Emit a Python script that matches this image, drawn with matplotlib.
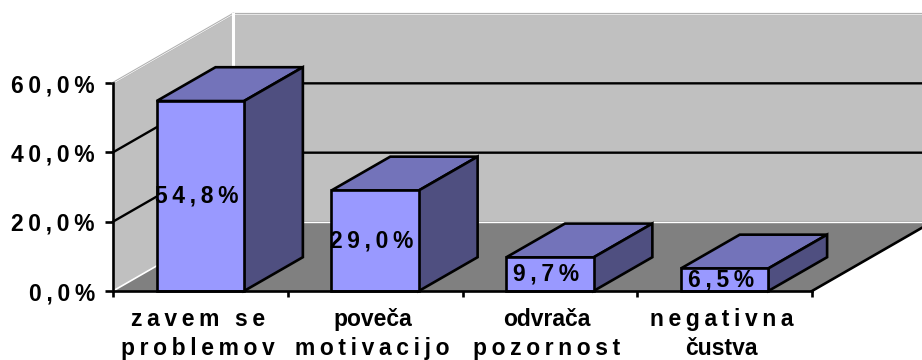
import matplotlib
matplotlib.use("Agg")
import matplotlib.pyplot as plt
from matplotlib.transforms import ScaledTranslation

categories = [("zavem se", "problemov"), ("poveča", "motivacijo"), ("odvrača", "pozornost"), ("negativna", "čustva")]
spaced_lines = [(True, True), (False, True), (False, True), (True, False)]
values = [54.8, 29.0, 9.7, 6.5]
y_ticks = [0, 20, 40, 60]

THIN = "\u2009"
BAR_W = 0.5
# depth of the box in data units (x per category, y per percent)
DX, DY = 120 / 174.75, 69 / 3.467
BAR_DEPTH = 0.49
FONT = "Liberation Sans"
LW = 1.9


def spaced(s, on=True):
    return THIN.join(s) if on else s


def pct(v):
    return spaced(f"{v:.1f}%".replace(".", ","))


def draw_box(ax):
    n = len(categories)
    top = y_ticks[-1]
    # floor, back wall, left wall
    ax.fill([0, n, n + DX, DX], [0, 0, DY, DY], color="#808080", lw=0, clip_on=False, zorder=1)
    ax.fill([DX, n + DX, n + DX, DX], [DY, DY, top + DY, top + DY], color="#C0C0C0", lw=0, clip_on=False, zorder=1)
    ax.fill([0, DX, DX, 0], [0, DY, top + DY, top], color="#C0C0C0", lw=0, clip_on=False, zorder=1)

    # light edges of the walls
    for xs, ys in [([DX, n + DX], [top + DY] * 2), ([0, DX], [top, top + DY])]:
        ax.plot(xs, ys, color="#B0B0B0", lw=1.6, clip_on=False, zorder=2)
        ax.plot(xs, [y - 0.1 for y in ys], color="white", lw=0.5, clip_on=False, zorder=2)
    ax.plot([DX, DX], [DY, top + DY], color="white", lw=2.2, clip_on=False, zorder=2)
    ax.plot([DX, n + DX], [DY + 0.3, DY + 0.3], color="#A0A0A0", lw=0.8, clip_on=False, zorder=2)
    ax.plot([DX, n + DX], [DY, DY], color="white", lw=1.0, clip_on=False, zorder=2)
    ax.plot([0, DX], [0, DY], color="white", lw=1.2, clip_on=False, zorder=2)
    ax.plot([n, n + DX], [0, DY], color="black", lw=LW, clip_on=False, zorder=2)

    # gridlines run along the left wall and across the back
    for v in y_ticks[1:-1]:
        ax.plot([0, DX, n + DX], [v, v + DY, v + DY], color="black", lw=1.7, clip_on=False, zorder=3)


def draw_bar(ax, i, v):
    x0, x1 = i + 0.5 - BAR_W / 2, i + 0.5 + BAR_W / 2
    dx, dy = DX * BAR_DEPTH, DY * BAR_DEPTH
    style = dict(edgecolor="black", lw=LW, clip_on=False, zorder=4, joinstyle="miter")
    ax.fill([x0, x1, x1 + dx, x0 + dx], [v, v, v + dy, v + dy], facecolor="#7373BA", **style)
    ax.fill([x1, x1 + dx, x1 + dx, x1], [0, dy, v + dy, v], facecolor="#4F4F80", **style)
    ax.fill([x0, x1, x1, x0], [0, 0, v, v], facecolor="#9999FF", **style)
    ax.annotate(pct(v), (i + 0.5, v / 2), xytext=(-2.5, 0), textcoords="offset points",
                ha="center", va="center", fontsize=16.5, fontweight="bold", family=FONT,
                color="black", zorder=5, annotation_clip=False)


def main():
    fig = plt.figure(figsize=(9.22, 3.6), dpi=100, facecolor="white")
    ax = fig.add_axes([113 / 922, 69 / 360, 699 / 922, 208 / 360])
    ax.set_xlim(0, len(categories))
    ax.set_ylim(0, y_ticks[-1])
    ax.patch.set_visible(False)

    draw_box(ax)
    for i, v in enumerate(values):
        draw_bar(ax, i, v)

    for side in ("top", "right"):
        ax.spines[side].set_visible(False)
    for side in ("left", "bottom"):
        ax.spines[side].set_linewidth(LW)
        ax.spines[side].set_zorder(6)

    ax.set_yticks(y_ticks, [pct(v) for v in y_ticks], fontsize=16.5, fontweight="bold", family=FONT)
    ax.tick_params(axis="y", length=6, width=LW, pad=7)
    ax.set_xticks(range(len(categories) + 1), [""] * (len(categories) + 1))
    ax.tick_params(axis="x", which="major", length=4, width=LW)

    labels = [spaced(a, sa) + "\n" + spaced(b, sb) for (a, b), (sa, sb) in zip(categories, spaced_lines)]
    ax.set_xticks([i + 0.5 for i in range(len(categories))], labels, minor=True,
                  fontsize=16.5, fontweight="bold", family=FONT, linespacing=1.36)
    ax.tick_params(axis="x", which="minor", length=0, pad=12)
    shift = ScaledTranslation(-2 / 72, 0, fig.dpi_scale_trans)
    for label in ax.get_xticklabels(minor=True):
        label.set_transform(label.get_transform() + shift)

    fig.savefig("out.png", dpi=100)


if __name__ == "__main__":
    main()
